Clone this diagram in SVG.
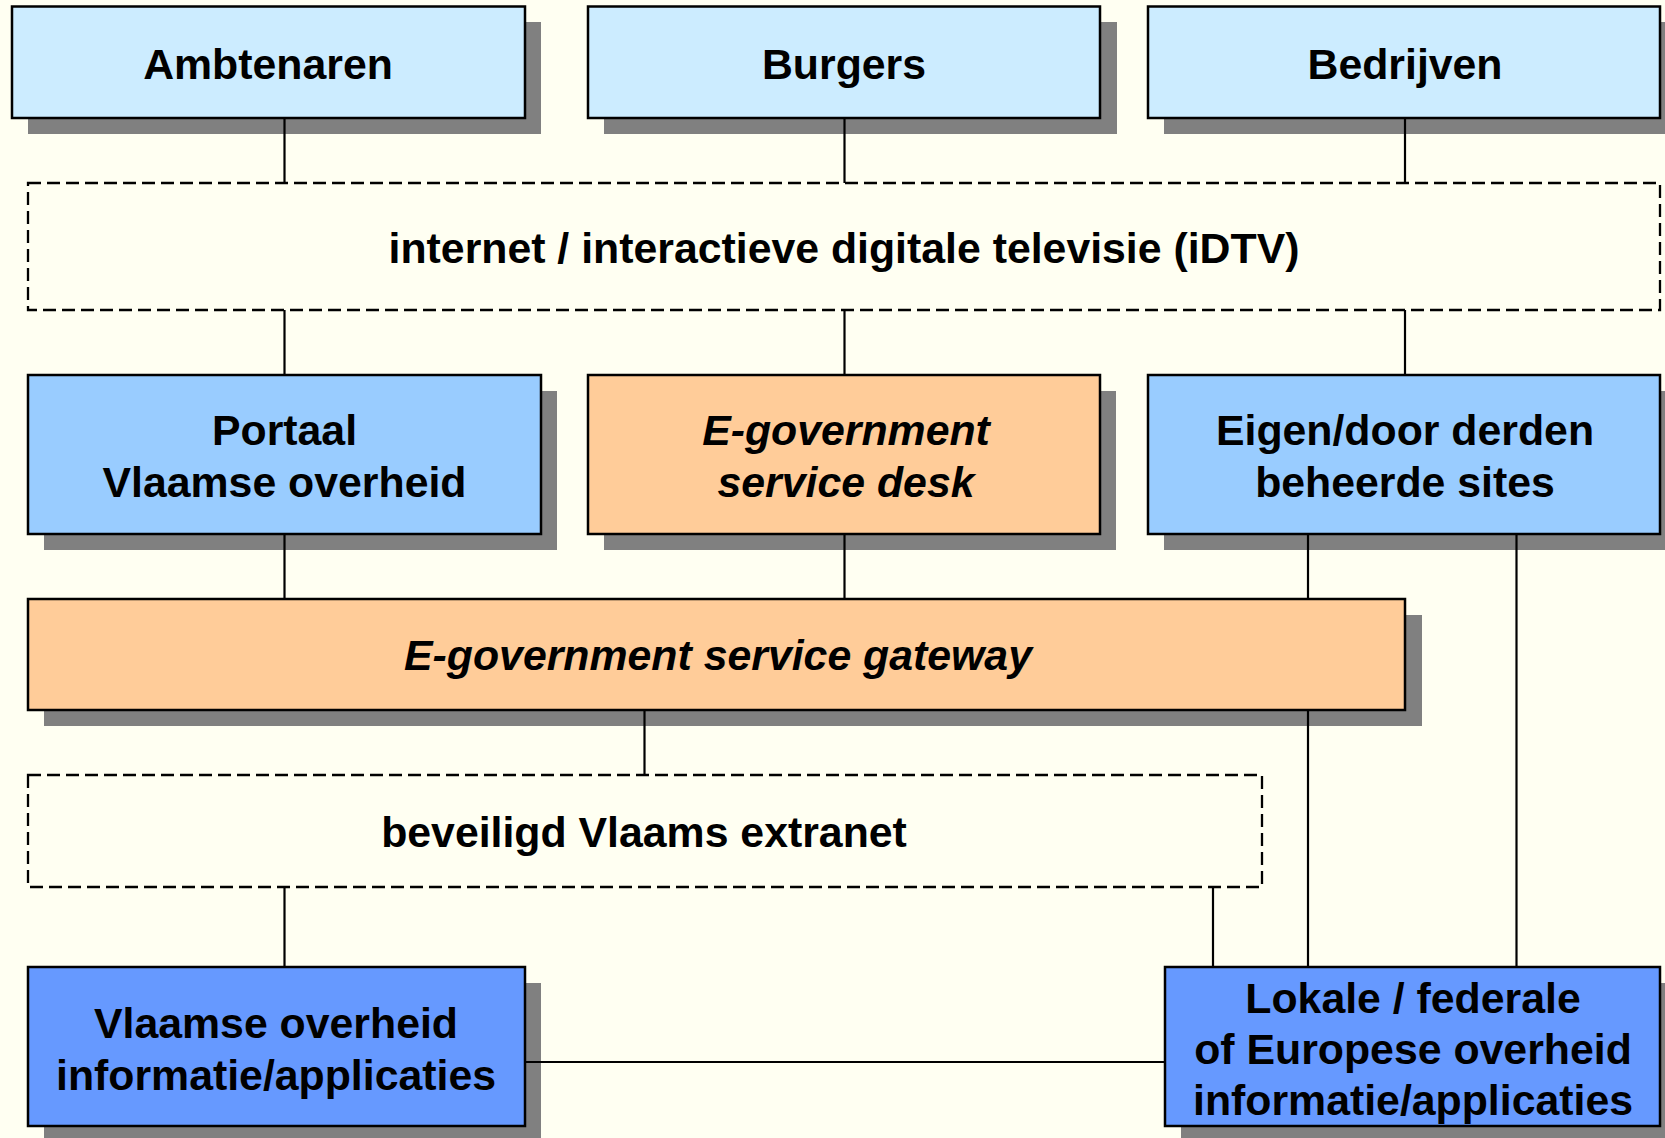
<svg xmlns="http://www.w3.org/2000/svg" width="1665" height="1138" viewBox="0 0 1665 1138">
<style>
.sh{fill:#808080}
.bx{stroke:#000;stroke-width:2.5}
.c1{fill:#CCECFF}.c2{fill:#99CCFF}.c3{fill:#FFCC99}.c4{fill:#6699FF}
.ds{fill:none;stroke:#000;stroke-width:2.3;stroke-dasharray:13 6}
.ln{stroke:#000;stroke-width:2.2;fill:none}
text{font-family:"Liberation Sans",Arial,sans-serif;font-weight:bold;font-size:42.8px;text-anchor:middle;fill:#000}
.it{font-style:italic}
</style>
<rect width="1665" height="1138" fill="#FFFFF2"/>
<g id="ambtenaren">
<rect class="sh" x="28" y="22" width="513" height="112"/>
<rect class="bx c1" x="12" y="6.5" width="513" height="111.5"/>
<text x="268" y="79">Ambtenaren</text>
</g>
<g id="burgers">
<rect class="sh" x="604" y="22" width="513" height="112"/>
<rect class="bx c1" x="588" y="6.5" width="512" height="111.5"/>
<text x="844" y="79">Burgers</text>
</g>
<g id="bedrijven">
<rect class="sh" x="1164" y="22" width="513" height="112"/>
<rect class="bx c1" x="1148" y="6.5" width="512" height="111.5"/>
<text x="1405" y="79">Bedrijven</text>
</g>
<g id="internet">
<rect class="ds" x="28" y="183" width="1632" height="127"/>
<text x="844" y="263">internet / interactieve digitale televisie (iDTV)</text>
</g>
<g id="portaal">
<rect class="sh" x="44" y="391" width="513" height="159"/>
<rect class="bx c2" x="28" y="375" width="513" height="159"/>
<text x="284.5" y="445">Portaal</text>
<text x="284.5" y="497">Vlaamse overheid</text>
</g>
<g id="servicedesk">
<rect class="sh" x="604" y="391" width="512" height="159"/>
<rect class="bx c3" x="588" y="375" width="512" height="159"/>
<text class="it" x="846" y="445">E-government</text>
<text class="it" x="846" y="497">service desk</text>
</g>
<g id="eigen">
<rect class="sh" x="1164" y="391" width="513" height="159"/>
<rect class="bx c2" x="1148" y="375" width="512" height="159"/>
<text x="1405" y="445">Eigen/door derden</text>
<text x="1405" y="497">beheerde sites</text>
</g>
<g id="gateway">
<rect class="sh" x="44" y="615" width="1378" height="111"/>
<rect class="bx c3" x="28" y="599" width="1377" height="111"/>
<text class="it" x="718" y="670">E-government service gateway</text>
</g>
<g id="extranet">
<rect class="ds" x="28" y="775" width="1234" height="112"/>
<text x="644" y="847">beveiligd Vlaams extranet</text>
</g>
<g id="vlaamse">
<rect class="sh" x="44" y="983" width="497" height="159"/>
<rect class="bx c4" x="28" y="967" width="497" height="159"/>
<text x="276" y="1038">Vlaamse overheid</text>
<text x="276" y="1090">informatie/applicaties</text>
</g>
<g id="lokale">
<rect class="sh" x="1181" y="983" width="496" height="159"/>
<rect class="bx c4" x="1165" y="967" width="495" height="159"/>
<text x="1413" y="1013">Lokale / federale</text>
<text x="1413" y="1064">of Europese overheid</text>
<text x="1413" y="1115">informatie/applicaties</text>
</g>
<g id="connectors">
<line class="ln" x1="284.5" y1="119" x2="284.5" y2="183"/>
<line class="ln" x1="844.5" y1="119" x2="844.5" y2="183"/>
<line class="ln" x1="1405" y1="119" x2="1405" y2="183"/>
<line class="ln" x1="284.5" y1="310" x2="284.5" y2="374"/>
<line class="ln" x1="844.5" y1="310" x2="844.5" y2="374"/>
<line class="ln" x1="1405" y1="310" x2="1405" y2="374"/>
<line class="ln" x1="284.5" y1="535" x2="284.5" y2="598"/>
<line class="ln" x1="844.5" y1="535" x2="844.5" y2="598"/>
<line class="ln" x1="1308" y1="535" x2="1308" y2="598"/>
<line class="ln" x1="1308" y1="711" x2="1308" y2="966"/>
<line class="ln" x1="1516.5" y1="535" x2="1516.5" y2="966"/>
<line class="ln" x1="644.5" y1="711" x2="644.5" y2="775"/>
<line class="ln" x1="284.5" y1="887" x2="284.5" y2="966"/>
<line class="ln" x1="1213" y1="887" x2="1213" y2="966"/>
<line class="ln" x1="526" y1="1062" x2="1164" y2="1062"/>
</g>
</svg>
